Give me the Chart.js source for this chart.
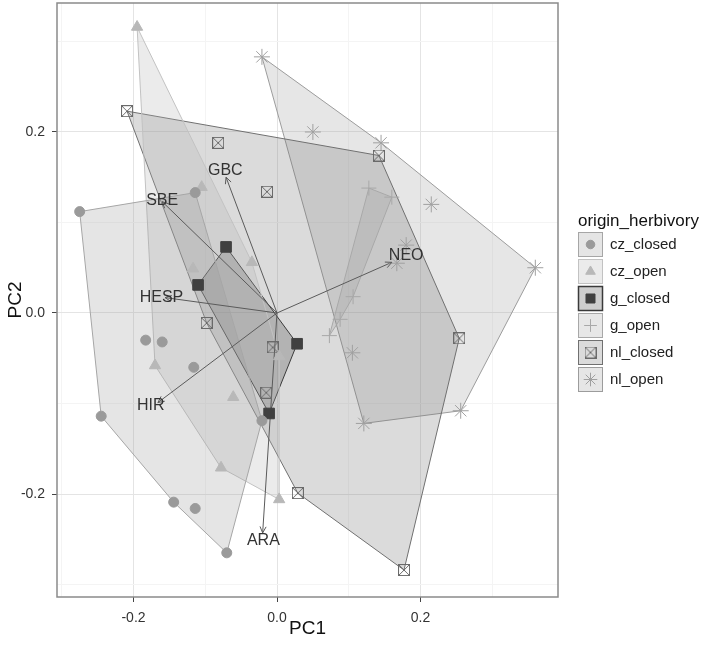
<!DOCTYPE html>
<html><head><meta charset="utf-8">
<script src="https://cdn.jsdelivr.net/npm/chart.js@4.4.1/dist/chart.umd.min.js"></script>
<style>html,body{margin:0;padding:0;background:#fff}#wrap{width:706px;height:646px;position:relative}</style>
</head><body><div id="wrap"><canvas id="c" width="706" height="646"></canvas></div>
<script>
// ---------- DATA ----------
const groups = ['cz_closed','cz_open','g_closed','g_open','nl_closed','nl_open'];

const czClosedX = [-0.275,-0.114,-0.183,-0.160,-0.116,-0.245,-0.144,-0.114,-0.070,-0.021];
const czClosedY = [ 0.112, 0.133,-0.030,-0.032,-0.060,-0.114,-0.209,-0.216,-0.265,-0.119];

const czOpenX = [-0.195,-0.105,-0.035,-0.117,-0.170,-0.061,-0.078, 0.003, 0.003];
const czOpenY = [ 0.316, 0.139, 0.056, 0.049,-0.058,-0.093,-0.171,-0.206,-0.048];

const gClosedX = [-0.071,-0.110, 0.028,-0.011];
const gClosedY = [ 0.073, 0.031,-0.034,-0.111];

const gOpenX = [0.128, 0.160, 0.106, 0.088, 0.073];
const gOpenY = [0.138, 0.128, 0.018,-0.007,-0.025];

const nlClosedX = [-0.209,-0.082,-0.014, 0.142,-0.098,-0.006,-0.015, 0.029, 0.254, 0.177];
const nlClosedY = [ 0.223, 0.188, 0.134, 0.174,-0.011,-0.038,-0.088,-0.199,-0.028,-0.284];

const nlOpenX = [-0.021, 0.050, 0.145, 0.215, 0.180, 0.167, 0.360, 0.105, 0.121, 0.256];
const nlOpenY = [ 0.283, 0.200, 0.188, 0.120, 0.075, 0.055, 0.050,-0.044,-0.122,-0.108];

// variable loadings (biplot arrows) and their label positions
const loadingNames = ['GBC','SBE','HESP','HIR','ARA','NEO'];
const loadingX = [-0.071,-0.160,-0.156,-0.166,-0.020, 0.160];
const loadingY = [ 0.150, 0.123, 0.017,-0.099,-0.243, 0.056];
const labelX   = [-0.072,-0.160,-0.161,-0.176,-0.019, 0.180];
const labelY   = [ 0.157, 0.124, 0.017,-0.102,-0.251, 0.063];

const xTickValues = [-0.3,-0.2,-0.1,0,0.1,0.2,0.3];
const xTickLabels = ['','-0.2','','0.0','','0.2',''];
const yTickValues = [-0.3,-0.2,-0.1,0,0.1,0.2,0.3];
const yTickLabels = ['','-0.2','','0.0','','0.2',''];
const xTitle = 'PC1', yTitle = 'PC2', legendTitle = 'origin_herbivory';

// ---------- STYLE ----------
const groupX = [czClosedX, czOpenX, gClosedX, gOpenX, nlClosedX, nlOpenX];
const groupY = [czClosedY, czOpenY, gClosedY, gOpenY, nlClosedY, nlOpenY];
const pointColor = ['#9a9a9a','#b8b8b8','#404040','#a8a8a8','#6e6e6e','#a0a0a0'];
const lineColor  = ['#a6a6a6','#c2c2c2','#3a3a3a','#a8a8a8','#707070','#9c9c9c'];
const fillGray   = [150, 175, 60, 160, 110, 155];
const fillAlpha  = 0.25;

function boxX(color){
  const c=document.createElement('canvas'); c.width=12; c.height=12;
  const g=c.getContext('2d'); g.strokeStyle=color; g.lineWidth=1;
  g.strokeRect(0.5,0.5,11,11);
  g.beginPath(); g.moveTo(1,1); g.lineTo(11,11); g.moveTo(11,1); g.lineTo(1,11); g.stroke();
  return c;
}
const pointStyle = ['circle','triangle','rect','cross', boxX('#6a6a6a'), 'star'];
const pointRadius = [5, 6.5, 7.5, 7.5, 6, 8];
const pointFill = [true, true, true, false, false, false];

function hull(xs, ys){
  const pts = xs.map((x,i)=>({x, y:ys[i]})).sort((a,b)=>a.x-b.x||a.y-b.y);
  const cross=(o,a,b)=>(a.x-o.x)*(b.y-o.y)-(a.y-o.y)*(b.x-o.x);
  const lower=[], upper=[];
  for(const p of pts){ while(lower.length>=2&&cross(lower[lower.length-2],lower[lower.length-1],p)<=0) lower.pop(); lower.push(p); }
  for(let i=pts.length-1;i>=0;i--){ const p=pts[i]; while(upper.length>=2&&cross(upper[upper.length-2],upper[upper.length-1],p)<=0) upper.pop(); upper.push(p); }
  const h = lower.slice(0,-1).concat(upper.slice(0,-1));
  h.push(h[0]);
  return h;
}

const datasets = [];
groups.forEach((g,i)=>{
  datasets.push({
    label: g+'_hull', data: hull(groupX[i], groupY[i]), showLine: true, fill: 'shape',
    backgroundColor: `rgba(${fillGray[i]},${fillGray[i]},${fillGray[i]},${fillAlpha})`,
    borderColor: lineColor[i], borderWidth: 1, pointRadius: 0, tension: 0, order: 10
  });
});
loadingNames.forEach((n,i)=>{
  datasets.push({
    label: n, data: [{x:0,y:0},{x:loadingX[i],y:loadingY[i]}], showLine: true, fill: false,
    borderColor: '#5a5a5a', borderWidth: 1, pointRadius: 0, order: 5
  });
});
groups.forEach((g,i)=>{
  datasets.push({
    label: g, data: groupX[i].map((x,k)=>({x, y:groupY[i][k]})), showLine: false,
    pointStyle: pointStyle[i], pointRadius: pointRadius[i],
    pointBackgroundColor: pointFill[i] ? pointColor[i] : 'rgba(0,0,0,0)',
    pointBorderColor: pointColor[i], pointBorderWidth: 1, order: 1
  });
});

const FONT = '"Liberation Sans", Arial, Helvetica, sans-serif';

const overlay = {
  id: 'overlay',
  afterDatasetsDraw(chart){
    const ctx = chart.ctx, xs = chart.scales.x, ys = chart.scales.y;
    ctx.save();
    const ox = xs.getPixelForValue(0), oy = ys.getPixelForValue(0);
    ctx.strokeStyle = '#5a5a5a'; ctx.lineWidth = 1;
    loadingNames.forEach((n,i)=>{
      const tx = xs.getPixelForValue(loadingX[i]), ty = ys.getPixelForValue(loadingY[i]);
      const a = Math.atan2(ty-oy, tx-ox), L = 7, w = 0.45;
      ctx.beginPath();
      ctx.moveTo(tx - L*Math.cos(a-w), ty - L*Math.sin(a-w));
      ctx.lineTo(tx, ty);
      ctx.lineTo(tx - L*Math.cos(a+w), ty - L*Math.sin(a+w));
      ctx.stroke();
    });
    ctx.fillStyle = '#333'; ctx.font = '16px '+FONT; ctx.textAlign='center'; ctx.textBaseline='middle';
    loadingNames.forEach((n,i)=>{
      ctx.fillText(n, xs.getPixelForValue(labelX[i]), ys.getPixelForValue(labelY[i]));
    });
    ctx.restore();
  },
  afterDraw(chart){
    const ctx = chart.ctx, a = chart.chartArea;
    ctx.save();
    ctx.strokeStyle = '#8a8a8a'; ctx.lineWidth = 1.5;
    ctx.strokeRect(a.left, a.top, a.right-a.left, a.bottom-a.top);
    // legend
    const lx = 578, ty = 221, y0 = 244.5, dy = 27;
    ctx.fillStyle = '#111'; ctx.font = '17px '+FONT; ctx.textAlign='left'; ctx.textBaseline='middle';
    ctx.fillText(legendTitle, lx, ty);
    groups.forEach((g,i)=>{
      const yc = y0 + i*dy;
      ctx.fillStyle = '#fff'; ctx.fillRect(lx, yc-12.5, 25, 25);
      ctx.fillStyle = `rgba(${fillGray[i]},${fillGray[i]},${fillGray[i]},${fillAlpha})`;
      ctx.fillRect(lx, yc-12.5, 25, 25);
      ctx.strokeStyle = lineColor[i]; ctx.lineWidth = i===2 ? 1.5 : 1;
      ctx.strokeRect(lx+0.5, yc-12, 24, 24);
      ctx.fillStyle = pointFill[i] ? pointColor[i] : 'rgba(0,0,0,0)';
      ctx.strokeStyle = pointColor[i]; ctx.lineWidth = 1;
      Chart.helpers.drawPoint(ctx, {pointStyle: pointStyle[i], radius: pointRadius[i]*0.85, borderWidth: 1, rotation: 0}, lx+12.5, yc);
      ctx.fillStyle = '#222'; ctx.font = '15px '+FONT;
      ctx.fillText(g, 610, yc);
    });
    ctx.restore();
  }
};

new Chart(document.getElementById('c'), {
  type: 'scatter',
  data: { datasets },
  options: {
    responsive: false, animation: false, devicePixelRatio: 1,
    layout: { autoPadding: false, padding: { top: 3, right: 148, left: 0, bottom: 0 } },
    plugins: { legend: { display: false }, tooltip: { enabled: false } },
    scales: {
      x: {
        type: 'linear', min: -0.3066, max: 0.3916,
        afterBuildTicks: s => { s.ticks = xTickValues.map(v=>({value:v})); },
        afterFit: s => { s.height = 49; s.paddingLeft = 0; s.paddingRight = 0; },
        ticks: { callback: (v,i)=>xTickLabels[i], color: '#333', font: {size: 14, family: FONT}, padding: 8, maxRotation: 0, autoSkip: false },
        grid: { color: c => xTickLabels[c.index] ? '#e4e4e4' : '#f4f4f4', lineWidth: 1, tickLength: 5,
                tickColor: c => xTickLabels[c.index] ? '#444' : 'rgba(0,0,0,0)' },
        border: { display: false },
        title: { display: true, text: xTitle, color: '#111', font: {size: 19, family: FONT}, padding: {top: 0, bottom: 6} }
      },
      y: {
        type: 'linear', min: -0.3138, max: 0.3425,
        afterBuildTicks: s => { s.ticks = yTickValues.map(v=>({value:v})); },
        afterFit: s => { s.width = 57; s.paddingTop = 0; s.paddingBottom = 0; },
        ticks: { callback: (v,i)=>yTickLabels[i], color: '#333', font: {size: 14, family: FONT}, padding: 7, autoSkip: false },
        grid: { color: c => yTickLabels[c.index] ? '#e4e4e4' : '#f4f4f4', lineWidth: 1, tickLength: 5,
                tickColor: c => yTickLabels[c.index] ? '#444' : 'rgba(0,0,0,0)' },
        border: { display: false },
        title: { display: true, text: yTitle, color: '#111', font: {size: 19, family: FONT}, padding: {top: 4, bottom: 0} }
      }
    }
  },
  plugins: [overlay]
});
</script></body></html>
